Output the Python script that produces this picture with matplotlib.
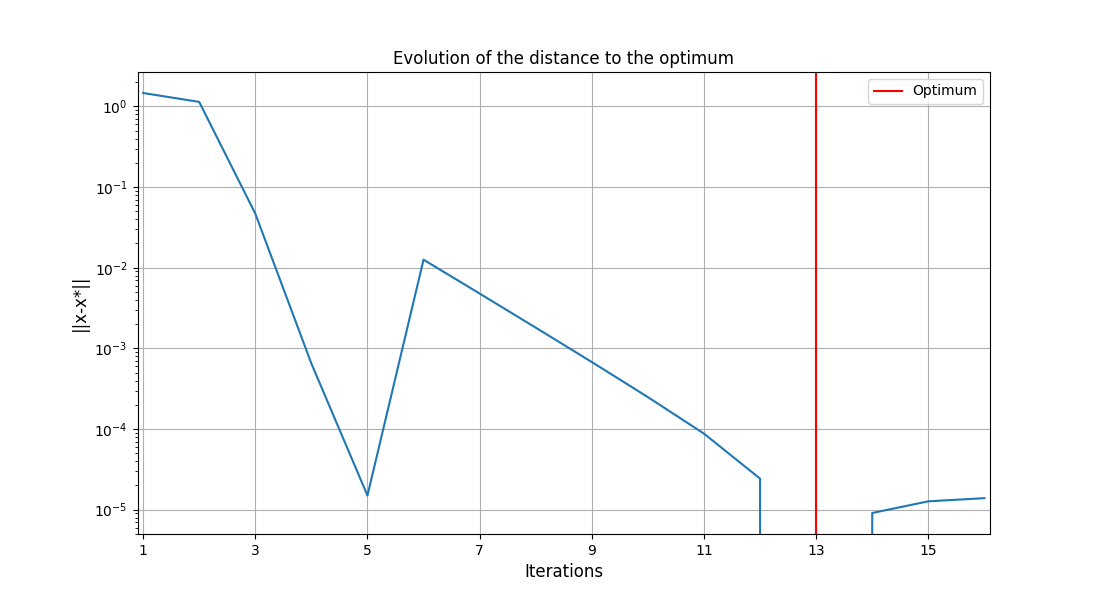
import numpy as np
import matplotlib
matplotlib.use("Agg")
import matplotlib.pyplot as plt

# =====================================================
# DATA
# =====================================================

iterations = list(range(1, 17))
distance = [1.47, 1.14, 0.047, 6.5e-4, 1.5e-5, 0.0126, 4.79e-3, 1.81e-3,
            6.78e-4, 2.49e-4, 8.77e-5, 2.43e-5, 0.0, 9.1e-6, 1.27e-5, 1.39e-5]
optimum_iter = 13

# =====================================================
# PLOT
# =====================================================

plt.figure(figsize=(11, 6), dpi=100)

plt.plot(iterations, distance)
plt.axvline(optimum_iter, color="red", label="Optimum")

plt.yscale("log")
plt.xlim(0.9, 16.1)
plt.xticks(range(1, 17, 2))

plt.title("Evolution of the distance to the optimum")
plt.xlabel("Iterations", fontsize=12)
plt.ylabel("||x-x*||", fontsize=12)
plt.grid(True)
plt.legend(loc="upper right")

plt.savefig("out.png")
